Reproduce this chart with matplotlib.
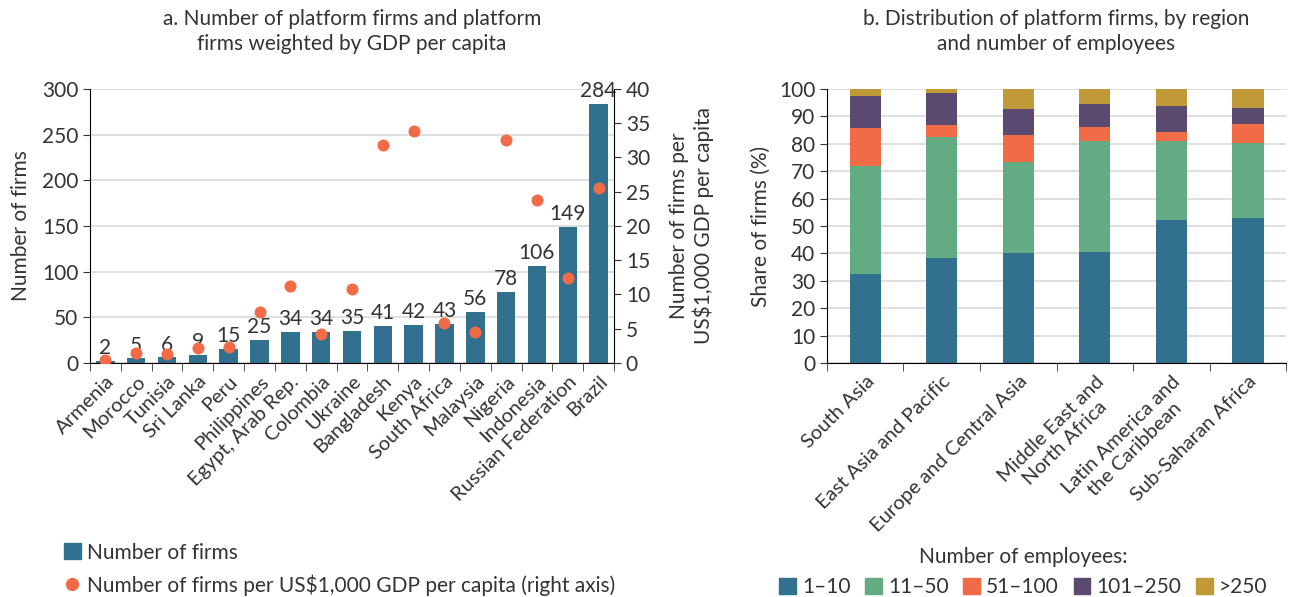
import matplotlib
matplotlib.use('Agg')
import matplotlib.pyplot as plt
from matplotlib.patches import Patch
from matplotlib.lines import Line2D
import numpy as np

plt.rcParams['font.family'] = ['Lato', 'DejaVu Sans']
plt.rcParams['text.color'] = '#333333'
plt.rcParams['axes.labelcolor'] = '#333333'
plt.rcParams['xtick.color'] = '#333333'
plt.rcParams['ytick.color'] = '#333333'

# Panel a data
countries = ['Armenia', 'Morocco', 'Tunisia', 'Sri Lanka', 'Peru', 'Philippines',
             'Egypt, Arab Rep.', 'Colombia', 'Ukraine', 'Bangladesh', 'Kenya',
             'South Africa', 'Malaysia', 'Nigeria', 'Indonesia',
             'Russian Federation', 'Brazil']
n_firms = [2, 5, 6, 9, 15, 25, 34, 34, 35, 41, 42, 43, 56, 78, 106, 149, 284]
firms_per_gdp = [0.4, 1.5, 1.3, 2.2, 2.3, 7.5, 11.3, 4.3, 10.8, 31.8, 33.9,
                 5.8, 4.5, 32.6, 23.8, 12.4, 25.5]

# Panel b data
regions = ['South Asia', 'East Asia and Pacific', 'Europe and Central Asia',
           'Middle East and\nNorth Africa', 'Latin America and\nthe Caribbean',
           'Sub-Saharan Africa']
size_classes = ['1–10', '11–50', '51–100', '101–250', '>250']
share_1_10 = [32.3, 38.2, 40.0, 40.4, 52.1, 52.8]
share_11_50 = [39.5, 44.1, 33.4, 40.5, 28.8, 27.3]
share_51_100 = [13.9, 4.5, 9.8, 5.2, 3.4, 7.1]
share_101_250 = [11.7, 11.7, 9.5, 8.4, 9.5, 5.8]
share_250 = [2.6, 1.5, 7.3, 5.5, 6.2, 7.0]

BLUE = '#31708f'
ORANGE = '#f26b47'
colors_b = [BLUE, '#63ab82', ORANGE, '#5a4a70', '#c09a38']
GRID = '#d9d9d9'
FS = 15

fig = plt.figure(figsize=(12.97, 5.97), dpi=100)

# ---------- panel a ----------
ax = fig.add_axes([0.0694, 0.392, 0.404, 0.459])
x = np.arange(len(countries))
bars = ax.bar(x, n_firms, width=0.6, color=BLUE, zorder=2)
ax.bar_label(bars, padding=2, fontsize=FS)
ax.set_ylim(0, 300)
ax.set_xlim(-0.5, len(countries) - 0.5)
ax.set_yticks(range(0, 301, 50))
ax.yaxis.grid(True, color=GRID, linewidth=1.2, zorder=0)
ax.set_axisbelow(True)
ax.set_xticks(x)
ax.set_xticklabels(countries, rotation=45, ha='right', rotation_mode='anchor', fontsize=FS - 0.5)
ax.set_xticks(np.arange(-0.5, len(countries), 1), minor=True)
ax.tick_params(axis='x', which='major', length=0, pad=7)
ax.tick_params(axis='x', which='minor', length=6, direction='out')
ax.tick_params(axis='y', labelsize=FS, length=5, direction='out')
for s in ['top', 'right']:
    ax.spines[s].set_visible(False)
ax.set_ylabel('Number of firms', fontsize=FS, labelpad=8)
ax.set_title('a. Number of platform firms and platform\nfirms weighted by GDP per capita',
             fontsize=FS, pad=28, linespacing=1.3)

ax2 = ax.twinx()
ax2.scatter(x, firms_per_gdp, s=75, color=ORANGE, zorder=3, linewidths=0)
ax2.set_ylim(0, 40)
ax2.set_yticks(range(0, 41, 5))
ax2.tick_params(axis='y', labelsize=FS, length=5, direction='out')
for s in ['top', 'left', 'bottom']:
    ax2.spines[s].set_visible(False)
ax2.set_ylabel('Number of firms per\nUS$1,000 GDP per capita', fontsize=FS,
               labelpad=14, linespacing=1.15)

handles_a = [Patch(color=BLUE, label='Number of firms'),
             Line2D([0], [0], marker='o', linestyle='', color=ORANGE, markersize=8.5,
                    label='Number of firms per US$1,000 GDP per capita (right axis)')]
fig.legend(handles=handles_a, loc='upper left', bbox_to_anchor=(0.043, 0.105),
           frameon=False, fontsize=FS, handlelength=0.8, handleheight=0.8,
           handletextpad=0.3, labelspacing=0.55, borderaxespad=0)

# ---------- panel b ----------
bx = fig.add_axes([0.6376, 0.392, 0.354, 0.459])
xr = np.arange(len(regions))
series = [share_1_10, share_11_50, share_51_100, share_101_250, share_250]
bottom = np.zeros(len(regions))
for vals, col, lab in zip(series, colors_b, size_classes):
    bx.bar(xr, vals, width=0.41, bottom=bottom, color=col, label=lab, zorder=2)
    bottom += np.array(vals)
bx.set_ylim(0, 100)
bx.set_xlim(-0.5, len(regions) - 0.5)
bx.set_yticks(range(0, 101, 10))
bx.yaxis.grid(True, color=GRID, linewidth=1.2, zorder=0)
bx.set_axisbelow(True)
bx.set_xticks(xr)
bx.set_xticklabels(regions, rotation=45, ha='right', rotation_mode='anchor',
                   fontsize=FS - 0.5, multialignment='center')
bx.set_xticks(np.arange(-0.5, len(regions), 1), minor=True)
bx.tick_params(axis='x', which='major', length=0, pad=7)
bx.tick_params(axis='x', which='minor', length=6, direction='out')
bx.tick_params(axis='y', labelsize=FS, length=5, direction='out')
for s in ['top', 'right']:
    bx.spines[s].set_visible(False)
bx.set_ylabel('Share of firms (%)', fontsize=FS, labelpad=6)
bx.set_title('b. Distribution of platform firms, by region\nand number of employees',
             fontsize=FS, pad=28, linespacing=1.3)

handles_b = [Patch(color=c, label=l) for c, l in zip(colors_b, size_classes)]
fig.legend(handles=handles_b, loc='upper center', bbox_to_anchor=(0.789, 0.098),
           ncol=5, frameon=False, fontsize=FS, title='Number of employees:',
           title_fontsize=FS, handlelength=0.8, handleheight=0.8,
           handletextpad=0.3, columnspacing=0.7, borderaxespad=0)

fig.savefig('out.png', dpi=100)
